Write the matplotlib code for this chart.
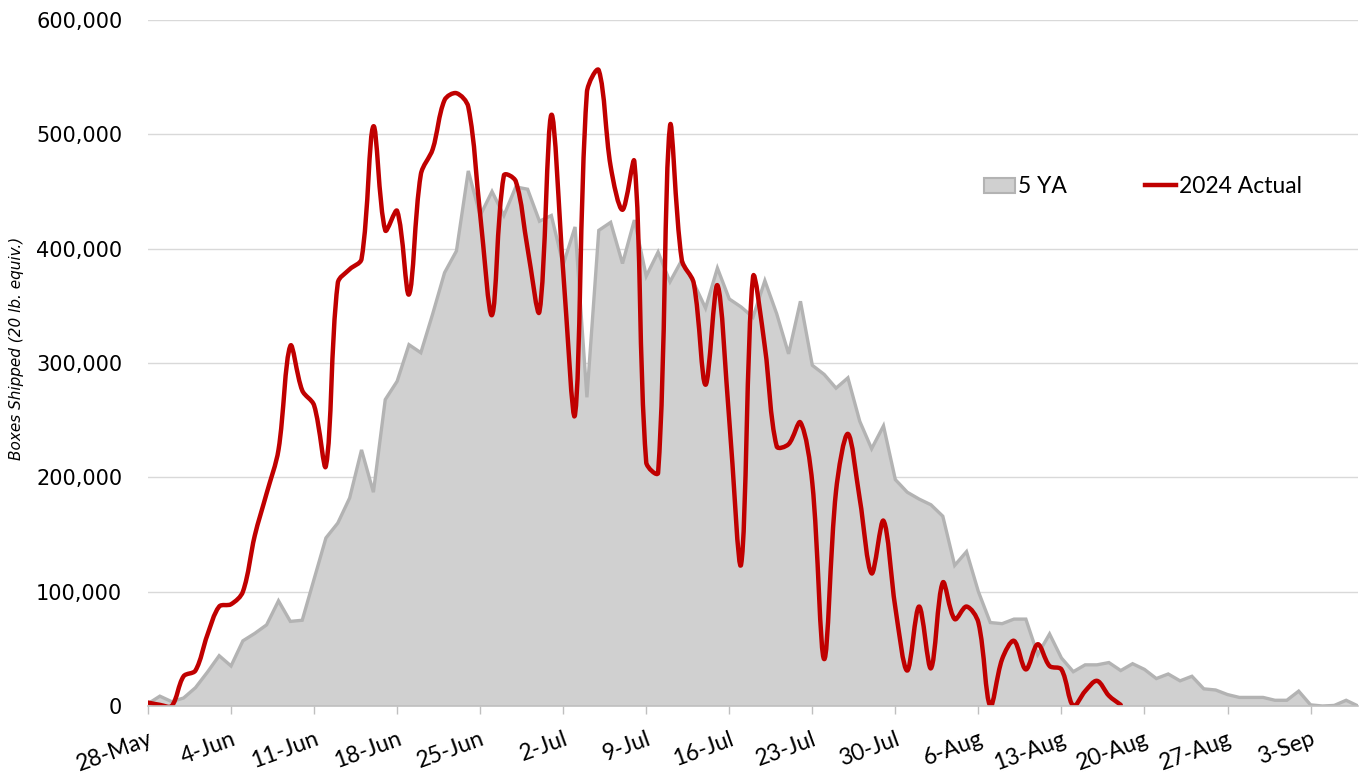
import numpy as np
import pandas as pd
import matplotlib
matplotlib.use("Agg")
import matplotlib.pyplot as plt
import matplotlib.dates as mdates
from matplotlib.path import Path
from matplotlib.patches import PathPatch, Patch
from matplotlib.lines import Line2D
from matplotlib.ticker import FuncFormatter, MultipleLocator

# ---------------- data (thousands of boxes) ----------------
start_date = "2024-05-28"

five_ya_k = [2, 8.6, 3.8, 7, 16, 29.5, 44, 35, 57, 63.5,
             71, 92, 74, 75, 111, 147, 160, 182, 224, 187,
             268, 284, 316, 309, 343, 379, 398, 468, 429, 450,
             429, 454, 452, 424, 429, 386, 419, 270, 416, 423,
             387, 425, 376, 397, 371, 390, 370, 348, 383, 356,
             349, 340, 372, 343, 308, 354, 298, 290, 278, 287,
             249, 225, 245, 198, 187, 181, 176, 166, 123, 135,
             100, 73, 72, 76, 76, 45, 63, 42, 30, 36,
             36, 38, 31, 37, 32, 24, 28, 22, 26, 15,
             14, 10, 7.5, 7.5, 7.5, 5, 5, 13, 1, 0,
             0.5, 5, 0]

actual_2024_k = [3, 1, 0, 26, 31, 62, 87, 89, 100, 149,
                 186, 224, 315, 276, 263, 210, 370, 382, 391, 507,
                 416, 433, 360, 465, 487, 530, 536, 524, 430, 342,
                 464, 459, 400, 345, 517, 380, 255, 537, 556, 472,
                 434, 476, 213, 204, 507, 390, 370, 281, 368, 250,
                 124, 375, 314, 227, 229, 248, 195, 41, 188, 238,
                 181, 116, 162, 86, 31, 87, 33, 108, 76, 87,
                 73, 0, 41, 57, 32, 54, 35, 32, 0, 13,
                 22, 9, 1]

series_labels = ["5 YA", "2024 Actual"]
y_label = "Boxes Shipped (20 lb. equiv.)"

five_ya = np.array(five_ya_k) * 1000
actual = np.array(actual_2024_k) * 1000
dates_5ya = pd.date_range(start_date, periods=len(five_ya), freq="D")
dates_act = pd.date_range(start_date, periods=len(actual), freq="D")

# ---------------- figure ----------------
fig = plt.figure(figsize=(13.66, 7.76), dpi=100)
ax = fig.add_axes([148 / 1366, 70 / 776, 1210 / 1366, 686 / 776])

x5 = mdates.date2num(dates_5ya)
xa = mdates.date2num(dates_act)

gray_fill = "#d0d0d0"
gray_edge = "#b3b3b3"
red = "#c00000"

ax.set_xlim(x5[0], x5[-1])
ax.set_ylim(0, 600000)

ax.fill_between(x5, 0, five_ya, facecolor=gray_fill, edgecolor="none", zorder=2)
ax.plot(x5, five_ya, color=gray_edge, lw=2.4, zorder=3, solid_joinstyle="miter")

# smoothed red line (Excel-like smoothing): Bezier segments whose control
# points follow the neighbour chord, scaled by relative segment length (screen space)
pts = ax.transData.transform(np.column_stack([xa, actual]))
n = len(pts)
verts = [pts[0]]
codes = [Path.MOVETO]
for i in range(n - 1):
    p0 = pts[i - 1] if i > 0 else pts[i]
    p1 = pts[i]
    p2 = pts[i + 1]
    p3 = pts[i + 2] if i + 2 < n else pts[i + 1]
    d01 = np.hypot(*(p1 - p0))
    d12 = np.hypot(*(p2 - p1))
    d23 = np.hypot(*(p3 - p2))
    f1 = d12 / (d01 + d12) if d01 + d12 > 0 else 0.5
    f2 = d12 / (d12 + d23) if d12 + d23 > 0 else 0.5
    c1 = p1 + (p2 - p0) * f1 / 3.0
    c2 = p2 - (p3 - p1) * f2 / 3.0
    verts += [c1, c2, p2]
    codes += [Path.CURVE4] * 3
verts = ax.transData.inverted().transform(np.array(verts))
path = Path(verts, codes)
ax.add_patch(PathPatch(path, facecolor="none", edgecolor=red, lw=3.2,
                       capstyle="round", joinstyle="round", zorder=4))

# grid / spines
ax.yaxis.set_major_locator(MultipleLocator(100000))
ax.yaxis.set_major_formatter(FuncFormatter(lambda v, p: f"{v:,.0f}"))
ax.grid(axis="y", color="#d9d9d9", lw=1.0, zorder=0)
ax.set_axisbelow(True)
for s in ["left", "right", "top"]:
    ax.spines[s].set_visible(False)
ax.spines["bottom"].set_color("#bfbfbf")
ax.spines["bottom"].set_linewidth(1.2)
ax.spines["bottom"].set_zorder(5)

tick_dates = pd.date_range(start_date, periods=15, freq="7D")
ax.set_xticks(mdates.date2num(tick_dates))
ax.set_xticklabels([f"{d.day}-{d.strftime('%b')}" for d in tick_dates],
                   rotation=20, ha="right", rotation_mode="anchor",
                   family="Lato", fontsize=16.5)
ax.tick_params(axis="x", direction="out", length=6, color="#bfbfbf", width=1, pad=10)
ax.tick_params(axis="y", length=0, pad=18.5, labelsize=15)
for lab in ax.get_yticklabels():
    lab.set_family("DejaVu Sans")

fig.text(17 / 1366, 1 - 348 / 776, y_label, rotation=90, ha="center", va="center",
         family=["Liberation Sans Narrow", "DejaVu Sans"], style="italic", fontsize=11)

handles = [Patch(facecolor=gray_fill, edgecolor=gray_edge, lw=1.5),
           Line2D([0], [0], color=red, lw=3.2)]
ax.legend(handles, series_labels, loc="center left",
          bbox_to_anchor=(984 / 1366, 1 - 186.7 / 776), bbox_transform=fig.transFigure,
          ncol=2, frameon=False, borderpad=0, borderaxespad=0,
          handlelength=1.35, handleheight=0.65, handletextpad=0.14,
          columnspacing=3.4, prop={"family": "Lato", "size": 16.5})

fig.savefig("out.png", dpi=100)
